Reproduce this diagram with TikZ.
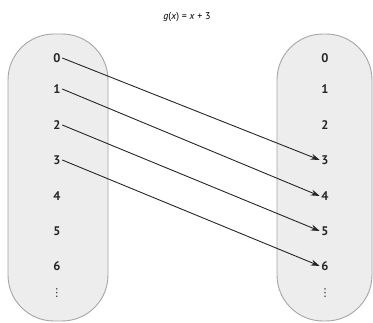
\documentclass[tikz,border=0pt]{standalone}
\usepackage{fontspec}
\setmainfont{PT Sans}
\newfontfamily\symfont{DejaVu Sans}
\usetikzlibrary{arrows.meta}
\begin{document}
\begin{tikzpicture}[x=1pt,y=-1pt,
  setoval/.style={draw=gray!70, line width=0.9pt, fill=gray!14, rounded corners=46pt},
  num/.style={font=\fontsize{12.5}{12.5}\selectfont\bfseries, text=black!85, inner sep=1.5pt},
  maparrow/.style={-{Stealth[length=9pt,width=6pt]}, line width=0.9pt, black!85}]
\useasboundingbox (0,0) rectangle (373,323);
\draw[setoval] (8,34) rectangle (108,321);
\draw[setoval] (277,34) rectangle (372,321);
\node[font=\fontsize{10}{12}\selectfont] (title) at (187,17) {\textit{g}(\textit{x}) = \textit{x} + 3};
\foreach \n/\y in {0/58,1/89,2/125,3/160,4/196,5/231,6/266}{
  \node[num] (L\n) at (57,\y) {\n};
  \node[num] (R\n) at (325,\y) {\n};
}
\node[num, font=\fontsize{11}{11}\selectfont\symfont] (Ld) at (57,293) {⋮};
\node[num, font=\fontsize{11}{11}\selectfont\symfont] (Rd) at (325,293) {⋮};
\draw[maparrow] (L0.east) -- (R3.west);
\draw[maparrow] (L1.east) -- (R4.west);
\draw[maparrow] (L2.east) -- (R5.west);
\draw[maparrow] (L3.east) -- (R6.west);
\end{tikzpicture}
\end{document}
